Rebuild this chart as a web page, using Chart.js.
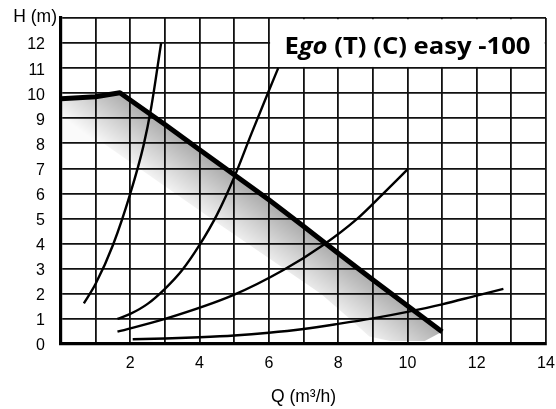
<!DOCTYPE html>
<html>
<head>
<meta charset="utf-8">
<script src="https://cdn.jsdelivr.net/npm/chart.js@4.4.1/dist/chart.umd.min.js"></script>
<style>
html,body{margin:0;padding:0;background:#fff;}
canvas{display:block;}
</style>
</head>
<body>
<canvas id="pumpChart" width="556" height="409"></canvas>
<script>
// --- Data (Q in m3/h, H in m)
const maxQ = [0, 1, 1.7, 3, 4, 5, 6, 7, 8, 9, 10, 11];
const maxH = [9.78, 9.86, 10.02, 8.75, 7.75, 6.75, 5.75, 4.7, 3.62, 2.56, 1.53, 0.49];

// lower edge of the grey working band
const bandLowQ = [0, 1.18, 4.6, 7.5, 8.3, 8.9, 9.5, 10.5, 11];
const bandLowH = [8.05, 8.05, 4.75, 2.0, 1.05, 0.3, 0.12, 0.12, 0.49];

// system curves
const sys1Q = [0.66, 1.0, 1.5, 2.0, 2.38, 2.6, 2.89];
const sys1H = [1.62, 2.4, 3.95, 6.0, 7.9, 9.4, 12.0];
const sys2Q = [1.63, 2.0, 2.5, 3.0, 3.5, 4.0, 4.5, 5.0, 5.5, 6.0, 6.27];
const sys2H = [1.0, 1.2, 1.6, 2.2, 2.95, 3.95, 5.15, 6.65, 8.4, 10.1, 11.0];
const sys3Q = [1.63, 3.0, 4.97, 6.42, 7.57, 8.53, 9.28, 10.01];
const sys3H = [0.49, 1.0, 1.95, 2.95, 3.95, 4.97, 5.97, 6.97];
const sys4Q = [2.07, 3, 4, 5, 6, 7, 8, 9, 10, 11, 12, 12.77];
const sys4H = [0.19, 0.22, 0.27, 0.34, 0.45, 0.6, 0.8, 1.02, 1.28, 1.58, 1.93, 2.2];

// axes
const xTickLabels = [2, 4, 6, 8, 10, 12, 14];
const yTickLabels = [0, 1, 2, 3, 4, 5, 6, 7, 8, 9, 10, 11, 12];
const xTitle = 'Q (m³/h)';
const yTitle = 'H (m)';

// title box (occupies Q 6..14, H 11..13)
const boxQ = [6, 14];
const boxH = [11, 13];
const titleParts = [
  { t: 'E', italic: false },
  { t: 'go', italic: true },
  { t: ' (T) (C) easy -100', italic: false }
];

// --- helpers
const pts = (qs, hs) => qs.map((q, i) => ({ x: q, y: hs[i] }));
const FONT = '"Liberation Sans", Arial, sans-serif';

function bandFill(c) {
  const chart = c.chart;
  const sx = chart.scales.x, sy = chart.scales.y;
  if (!chart.chartArea || !sx || !sy) return 'rgba(0,0,0,0.2)';
  const x0 = sx.getPixelForValue(maxQ[2]), y0 = sy.getPixelForValue(maxH[2]);
  const x1 = sx.getPixelForValue(maxQ[maxQ.length - 1]), y1 = sy.getPixelForValue(maxH[maxH.length - 1]);
  const len = Math.hypot(x1 - x0, y1 - y0);
  const nx = -(y1 - y0) / len, ny = (x1 - x0) / len;
  const w = 54;
  const g = chart.ctx.createLinearGradient(x0, y0, x0 + nx * w, y0 + ny * w);
  g.addColorStop(0, 'rgba(0,0,0,0.32)');
  g.addColorStop(0.5, 'rgba(0,0,0,0.17)');
  g.addColorStop(1, 'rgba(0,0,0,0.02)');
  return g;
}

const thin = (data) => ({
  data, borderColor: '#000', borderWidth: 2.4, pointRadius: 0, fill: false,
  cubicInterpolationMode: 'monotone'
});

const noEdgePad = s => { s.paddingLeft = 0; s.paddingRight = 0; s.paddingTop = 0; s.paddingBottom = 0; };

const titleBox = {
  id: 'titleBox',
  beforeDatasetsDraw(chart) {
    const { ctx } = chart;
    const sx = chart.scales.x, sy = chart.scales.y;
    const l = sx.getPixelForValue(boxQ[0]), r = sx.getPixelForValue(boxQ[1]);
    const t = sy.getPixelForValue(boxH[1]), b = sy.getPixelForValue(boxH[0]);
    ctx.save();
    ctx.fillStyle = '#fff';
    ctx.fillRect(l + 1.2, t + 1.2, r - l - 2.4, b - t - 2.4);
    // text
    const size = 23.5;
    const fnt = it => (it ? 'italic ' : '') + 'bold ' + size + 'px "Open Sans", sans-serif';
    let total = 0;
    titleParts.forEach(p => { ctx.font = fnt(p.italic); total += ctx.measureText(p.t).width; });
    const target = (r - l) * 0.888;
    const s = target / total;
    const cx = (l + r) / 2;
    const base = (t + b) / 2 + 11;
    ctx.translate(cx - target / 2, base);
    ctx.scale(s, 1);
    ctx.fillStyle = '#000';
    ctx.textBaseline = 'alphabetic';
    ctx.textAlign = 'left';
    let xx = 0;
    titleParts.forEach(p => { ctx.font = fnt(p.italic); ctx.fillText(p.t, xx, 0); xx += ctx.measureText(p.t).width; });
    ctx.restore();
  },
  afterDraw(chart) {
    const { ctx, chartArea } = chart;
    ctx.save();
    ctx.font = '17.5px ' + FONT;
    ctx.fillStyle = '#000';
    ctx.textAlign = 'right';
    ctx.textBaseline = 'middle';
    ctx.fillText(yTitle, chartArea.left - 4, chartArea.top - 1);
    ctx.restore();
  }
};

Chart.defaults.font.family = FONT;
Chart.defaults.color = '#000';

new Chart(document.getElementById('pumpChart'), {
  type: 'line',
  data: {
    datasets: [
      { data: pts(maxQ, maxH), borderColor: '#000', borderWidth: 5, pointRadius: 0, fill: false,
        borderJoinStyle: 'round', tension: 0 },
      thin(pts(sys1Q, sys1H)),
      thin(pts(sys2Q, sys2H)),
      thin(pts(sys3Q, sys3H)),
      thin(pts(sys4Q, sys4H)),
      { data: pts(maxQ, maxH).concat(pts(bandLowQ, bandLowH).reverse()),
        borderWidth: 0, borderColor: 'rgba(0,0,0,0)', pointRadius: 0, tension: 0,
        fill: 'shape', backgroundColor: bandFill }
    ]
  },
  options: {
    responsive: false,
    animation: false,
    layout: { padding: { left: 0, right: 10, top: 18, bottom: 0 } },
    plugins: { legend: { display: false }, tooltip: { enabled: false } },
    scales: {
      x: {
        type: 'linear', min: 0, max: 14,
        afterFit: s => { s.height = 65; noEdgePad(s); },
        grid: { color: '#111', lineWidth: 1.8, drawTicks: false },
        border: { color: '#000', width: 3.2 },
        ticks: {
          stepSize: 1, autoSkip: false, maxRotation: 0, padding: 10,
          font: { size: 16 },
          callback: v => xTickLabels.includes(v) ? String(v) : ''
        },
        title: { display: true, text: xTitle, font: { size: 17.5 }, padding: { top: 0, bottom: 1 } }
      },
      y: {
        type: 'linear', min: 0, max: 13,
        afterFit: s => { s.width = 61; noEdgePad(s); },
        grid: { color: '#111', lineWidth: 1.8, drawTicks: false },
        border: { color: '#000', width: 3.2 },
        ticks: {
          stepSize: 1, autoSkip: false, padding: 16, labelOffset: 2,
          font: { size: 16 },
          callback: v => yTickLabels.includes(v) ? String(v) : ''
        }
      }
    }
  },
  plugins: [titleBox]
});
</script>
</body>
</html>
